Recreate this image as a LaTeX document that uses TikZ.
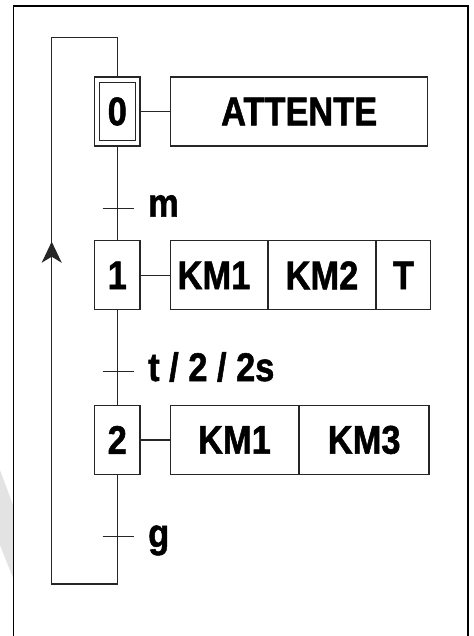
\documentclass[tikz,border=0pt]{standalone}
\usepackage{fontspec}
\setmainfont{Liberation Sans}[FakeStretch=0.86,BoldFeatures={FakeBold=1.3}]
\usetikzlibrary{arrows.meta}
\begin{document}
\begin{tikzpicture}[x=1pt,y=-1pt,
  line/.style={draw=black!85,line width=1.2pt},
  txt/.style={font=\fontsize{40}{40}\selectfont\bfseries,inner sep=0pt},
  stepbox/.style={line,minimum width=45.3pt,minimum height=69pt,inner sep=0pt,font=\fontsize{40}{40}\selectfont\bfseries},
  actbox/.style={line,minimum height=69pt,inner sep=0pt,font=\fontsize{40}{40}\selectfont\bfseries},
  tick/.style={line}]
\useasboundingbox (0,0) rectangle (473,636);
% watermark
\fill[gray!22] (0,470) -- (13,505) -- (13,578) -- (0,545) -- cycle;
% frame
\draw[line width=1.3pt] (13.3,640) -- (13.3,6) -- (468,6) -- (468,640);
% steps
\node[stepbox] (s0) at (117.3,111.5) {};
\node[line,minimum width=36pt,minimum height=58pt,inner sep=0pt] (s0i) at (117.3,111.7) {};
\node[txt] at (117.3,111.5) {0};
\node[stepbox] (s1) at (117.3,275.3) {1};
\node[stepbox] (s2) at (117.3,439.9) {2};
% actions
\node[actbox,minimum width=257pt] (a0) at (299.2,111.5) {ATTENTE};
\node[actbox,minimum width=96.6pt] (a11) at (219,275.3) {\hspace*{-10pt}KM1};
\node[actbox,minimum width=107pt,anchor=west] (a12) at (a11.east) {KM2};
\node[actbox,minimum width=53.4pt,anchor=west] (a13) at (a12.east) {T};
\node[actbox,minimum width=127.6pt] (a21) at (234.5,439.9) {KM1};
\node[actbox,minimum width=129.4pt,anchor=west] (a22) at (a21.east) {KM3};
% links
\draw[line] (s0.east) -- (a0.west);
\draw[line] (s1.east) -- (a11.west);
\draw[line] (s2.east) -- (a21.west);
% transitions
\coordinate (t1) at (117.3,208.3);
\coordinate (t2) at (117.3,371.7);
\coordinate (t3) at (117.3,536.3);
\draw[line] (s0.south) -- (s1.north);
\draw[line] (s1.south) -- (s2.north);
\draw[tick] ([xshift=-14.6pt]t1) -- ([xshift=16.7pt]t1);
\draw[tick] ([xshift=-14.6pt]t2) -- ([xshift=16.7pt]t2);
\draw[tick] ([xshift=-14.6pt]t3) -- ([xshift=16.7pt]t3);
\node[txt,anchor=base west] (l1) at (148,216.7) {m};
\node[txt,anchor=base west] (l2) at (148,381) {t / 2 / 2s};
\node[txt,anchor=base west] (l3) at (148,547) {g};
% loop
\coordinate (lb) at (117.3,584);
\coordinate (lbl) at (51.7,584);
\coordinate (ltl) at (51.7,37.7);
\coordinate (lt) at (117.3,37.7);
\draw[line] (s2.south) -- (lb) -- (lbl) -- (ltl) -- (lt) -- (s0.north);
\draw[line,-{Stealth[length=21pt,width=20pt,inset=6pt]}] (51.7,290) -- (51.7,241.7);
\end{tikzpicture}
\end{document}
